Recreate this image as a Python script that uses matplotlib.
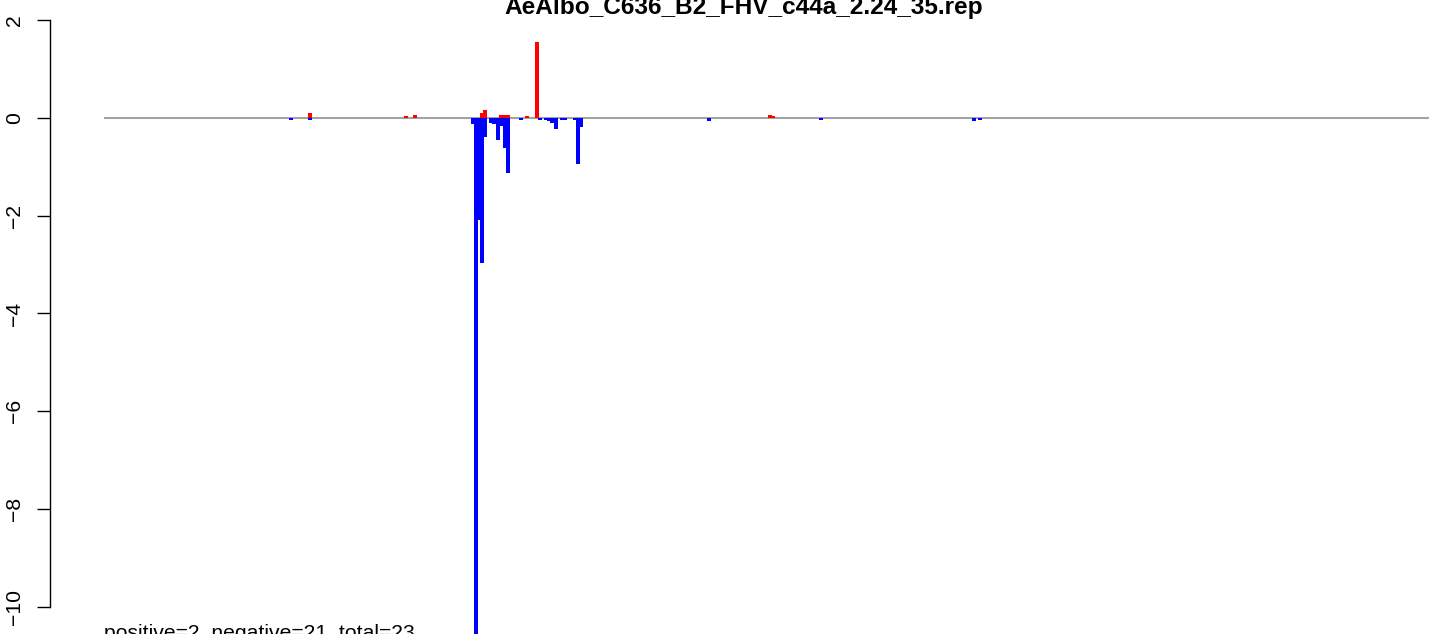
import matplotlib.pyplot as plt

plt.rcParams['font.family'] = ['Liberation Sans', 'DejaVu Sans']

# positions along the genome and normalised values
genomeLength = 3107
barWidth = 9.4

posPositions = [484, 709, 730, 886, 894, 932, 940, 948, 992, 1016, 1562, 1570]
posValues = [0.10, 0.03, 0.05, 0.10, 0.16, 0.05, 0.05, 0.05, 0.04, 1.55, 0.05, 0.03]

negPositions = [439, 484, 865, 873, 878, 887, 895, 909, 916, 924,
                933, 940, 948, 978, 1023, 1036, 1043, 1051, 1060, 1075,
                1082, 1104, 1112, 1120, 1419, 1682, 2040, 2054]
negValues = [-0.05, -0.05, -0.12, -11.2, -2.09, -2.97, -0.39, -0.10, -0.12, -0.45,
             -0.16, -0.61, -1.12, -0.04, -0.04, -0.04, -0.06, -0.10, -0.22, -0.04,
             -0.04, -0.04, -0.94, -0.18, -0.06, -0.04, -0.06, -0.04]

yTicks = [2, 0, -2, -4, -6, -8, -10]
title = "AeAlbo_C636_B2_FHV_c44a_2.24_35.rep"
counts = "positive=2, negative=21, total=23"

W, H = 1429, 634
fig = plt.figure(figsize=(W / 100, H / 100), dpi=100)
ax = fig.add_axes([50 / W, 0, 1 - 50 / W, 1])

# zero line first, bars drawn over it like in the original
ax.hlines(0, 1, genomeLength, color='#A3A3A3', linewidth=1.5, zorder=1)
ax.bar(posPositions, posValues, width=barWidth, color='#FF0000', linewidth=0, zorder=2)
ax.bar(negPositions, negValues, width=barWidth, color='#0000FF', linewidth=0, zorder=2)

scale = (genomeLength - 1) / (1429 - 104)
ax.set_xlim(1 - 54 * scale, genomeLength)
ax.set_ylim(-10 - 27 / 48.9, 2 + 20 / 48.9)

for s in ['top', 'right', 'bottom']:
    ax.spines[s].set_visible(False)
ax.spines['left'].set_bounds(-10, 2)
ax.spines['left'].set_linewidth(1.0)
ax.set_xticks([])
ax.set_yticks(yTicks)
ax.set_yticklabels([str(t).replace('-', '\u2212') for t in yTicks], rotation=90, va='center')
ax.tick_params(axis='y', length=9.4, width=1.0, pad=9, labelsize=15.2)

fig.text(744 / W, 1 - 14 / H, title, ha='center', va='baseline',
         fontsize=17.6, fontweight='bold')
fig.text(104 / W, 1 - 639 / H, counts, ha='left', va='baseline', fontsize=15.2)

fig.savefig('out.png', dpi=100)
